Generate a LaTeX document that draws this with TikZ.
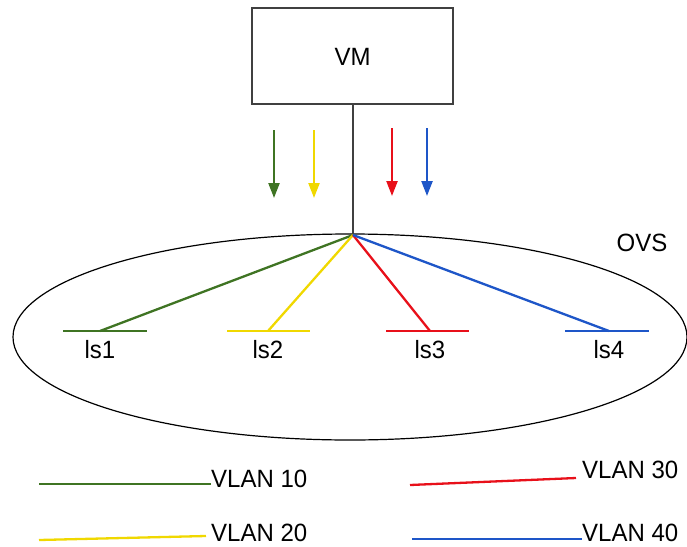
\documentclass[tikz,border=0pt]{standalone}
\usepackage{fontspec}
\setmainfont{Liberation Sans}
\usetikzlibrary{arrows.meta}
\definecolor{vgreen}{HTML}{3F7423}
\definecolor{vyellow}{HTML}{F0D800}
\definecolor{vred}{HTML}{E8101A}
\definecolor{vblue}{HTML}{1E56C8}
\tikzset{
  lbl/.style={font=\fontsize{25}{28}\selectfont, inner sep=0pt, xscale=0.96},
  vlan/.style={line width=2.3pt},
  darr/.style={line width=2.3pt, -{Triangle[width=11pt,length=15pt]}},
  blk/.style={draw=black!75, line width=1.5pt},
}
\begin{document}
\begin{tikzpicture}[x=1pt,y=-1pt]
\useasboundingbox (0,0) rectangle (687,546);
% VM box
\draw[blk] (252,8) rectangle (453,104);
\node[lbl] (vm) at (352.5,57) {VM};
\coordinate (vmb) at (353,104);
\coordinate (hub) at (353,235);
% OVS ellipse
\draw[black, line width=1.2pt] (350,337) ellipse [x radius=337, y radius=103];
\node[lbl] (ovs) at (642,243) {OVS};
\draw[blk] (vmb) -- (hub);
% arrows
\coordinate (a1s) at (274,130); \coordinate (a1e) at (274,198);
\coordinate (a2s) at (314,130); \coordinate (a2e) at (314,198);
\coordinate (a3s) at (392,128); \coordinate (a3e) at (392,196);
\coordinate (a4s) at (427,128); \coordinate (a4e) at (427,196);
\draw[darr, vgreen] (a1s) -- (a1e);
\draw[darr, vyellow] (a2s) -- (a2e);
\draw[darr, vred] (a3s) -- (a3e);
\draw[darr, vblue] (a4s) -- (a4e);
% ls switches
\coordinate (l1a) at (63,331); \coordinate (l1b) at (147,331); \coordinate (l1c) at (100,331);
\coordinate (l2a) at (227,331); \coordinate (l2b) at (310,331); \coordinate (l2c) at (268,331);
\coordinate (l3a) at (386,331); \coordinate (l3b) at (469,331); \coordinate (l3c) at (430,331);
\coordinate (l4a) at (565,331); \coordinate (l4b) at (649,331); \coordinate (l4c) at (609,331);
\draw[vlan, vgreen] (l1a) -- (l1b);
\draw[vlan, vyellow] (l2a) -- (l2b);
\draw[vlan, vred] (l3a) -- (l3b);
\draw[vlan, vblue] (l4a) -- (l4b);
\draw[vlan, vgreen] (hub) -- (l1c);
\draw[vlan, vyellow] (hub) -- (l2c);
\draw[vlan, vred] (hub) -- (l3c);
\draw[vlan, vblue] (hub) -- (l4c);
\node[lbl] (ls1) at (100,350) {ls1};
\node[lbl] (ls2) at (268,350) {ls2};
\node[lbl] (ls3) at (430,350) {ls3};
\node[lbl] (ls4) at (609,350) {ls4};
% legend
\node[lbl, anchor=west] (v10) at (211,479) {VLAN 10};
\node[lbl, anchor=west] (v20) at (211,533) {VLAN 20};
\node[lbl, anchor=west] (v30) at (582,470) {VLAN 30};
\node[lbl, anchor=west] (v40) at (582,533) {VLAN 40};
\coordinate (g1) at (39,484);
\coordinate (y1) at (39,540); \coordinate (y2) at (206,536);
\coordinate (r1) at (410,485); \coordinate (r2) at (576,478);
\coordinate (b1) at (412,539);
\draw[vlan, vgreen] (g1) -- (g1 -| v10.west);
\draw[vlan, vyellow] (y1) -- (y2);
\draw[vlan, vred] (r1) -- (r2);
\draw[vlan, vblue] (b1) -- (b1 -| v40.west);
\end{tikzpicture}
\end{document}
